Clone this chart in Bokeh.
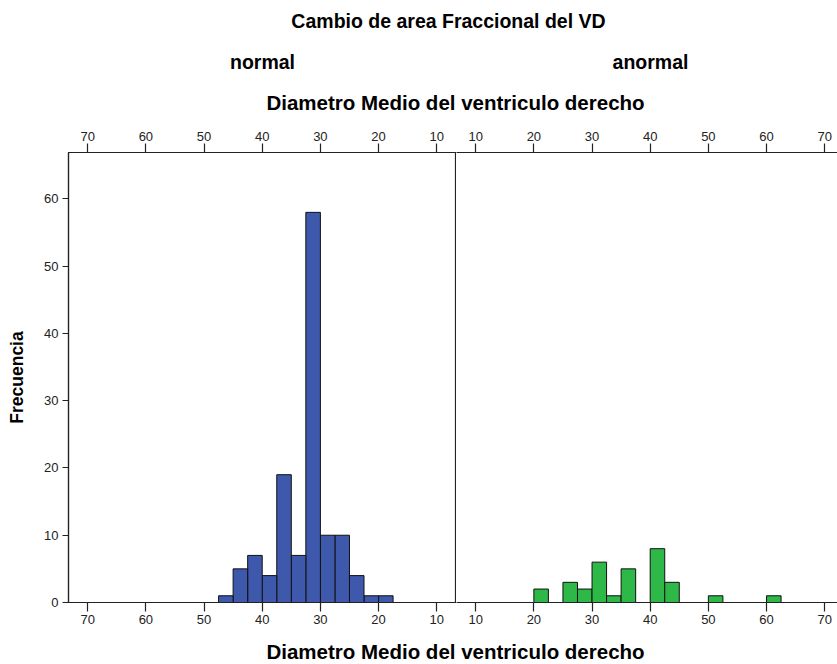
from bokeh.plotting import figure
from bokeh.models import Range1d, LinearAxis, FixedTicker, Label
from bokeh.layouts import column, row
from bokeh.embed import file_html
from bokeh.resources import INLINE

# ---- data ----
bin_width = 2.5
normal_bin_lo = [17.5, 20.0, 22.5, 25.0, 27.5, 30.0, 32.5, 35.0, 37.5, 40.0, 42.5, 45.0]
normal_counts = [1, 1, 4, 10, 10, 58, 7, 19, 4, 7, 5, 1]
anormal_bin_lo = [20.0, 25.0, 27.5, 30.0, 32.5, 35.0, 40.0, 42.5, 50.0, 60.0]
anormal_counts = [2, 3, 2, 6, 1, 5, 8, 3, 1, 1]
x_ticks = [10, 20, 30, 40, 50, 60, 70]
y_ticks = [0, 10, 20, 30, 40, 50, 60]

title_text = "Cambio de area Fraccional del VD"
panel_titles = ["normal", "anormal"]
x_label = "Diametro Medio del ventriculo derecho"
y_label = "Frecuencia"

FONT = "Liberation Sans"
W = 837
HEAD_H = 115
PANEL_H = 521
FOOT_H = 28
TICK_SIZE = "13px"
BLUE = "#3e58ac"
GREEN = "#2eb848"


def text_strip(height, labels):
    f = figure(width=W, height=height, x_range=Range1d(0, W), y_range=Range1d(height, 0),
               toolbar_location=None, output_backend="svg",
               x_axis_location=None, y_axis_location=None, min_border=0)
    f.outline_line_color = None
    f.xgrid.visible = False
    f.ygrid.visible = False
    for (txt, x, y, size) in labels:
        f.add_layout(Label(x=x, y=y, text=txt, text_font=FONT, text_font_size=size,
                           text_font_style="bold", text_align="center", text_baseline="middle",
                           text_color="#000000"))
    return f


def style_xaxis(ax):
    ax.ticker = FixedTicker(ticks=x_ticks)
    ax.major_tick_out = 9
    ax.major_tick_in = 0
    ax.minor_tick_out = 0
    ax.minor_tick_in = 0
    ax.major_label_standoff = 3
    ax.major_label_text_font = FONT
    ax.major_label_text_font_size = TICK_SIZE
    ax.major_label_text_color = "#222222"
    ax.axis_line_color = "#222222"
    ax.major_tick_line_color = "#222222"
    ax.axis_line_width = 1.2
    ax.major_tick_line_width = 1.2


def panel(width, xr, bin_lo, counts, color, left_border, show_y):
    p = figure(width=width, height=PANEL_H, x_range=xr, y_range=Range1d(0, 66.9),
               toolbar_location=None, output_backend="svg",
               y_axis_location="left" if show_y else None,
               min_border_left=left_border, min_border_right=0,
               min_border_top=37, min_border_bottom=34)
    p.xgrid.visible = False
    p.ygrid.visible = False
    p.background_fill_color = "white"
    p.border_fill_color = "white"
    right = [b + bin_width for b in bin_lo]
    p.quad(left=bin_lo, right=right, bottom=0, top=counts,
           fill_color=color, line_color="#111111", line_width=1)
    style_xaxis(p.xaxis[0])
    top = LinearAxis()
    style_xaxis(top)
    p.add_layout(top, "above")
    if show_y:
        ya = p.yaxis[0]
        ya.ticker = FixedTicker(ticks=y_ticks)
        ya.major_tick_out = 6
        ya.major_tick_in = 0
        ya.minor_tick_out = 0
        ya.minor_tick_in = 0
        ya.major_label_standoff = 4
        ya.major_label_text_font = FONT
        ya.major_label_text_font_size = TICK_SIZE
        ya.major_label_text_color = "#222222"
        ya.axis_line_color = "#222222"
        ya.major_tick_line_color = "#222222"
        ya.axis_line_width = 1.2
        ya.axis_label = y_label
        ya.axis_label_text_font = FONT
        ya.axis_label_text_font_size = "17.5px"
        ya.axis_label_text_font_style = "bold"
        ya.axis_label_text_color = "#000000"
        ya.axis_label_standoff = 14
        p.outline_line_color = "#222222"
        p.outline_line_width = 1.2
    else:
        p.outline_line_color = None
    return p


left = panel(456, Range1d(73.3, 6.6), normal_bin_lo, normal_counts, BLUE, 68, True)
right_p = panel(381, Range1d(6.7, 72.2), anormal_bin_lo, anormal_counts, GREEN, 0, False)

header = text_strip(HEAD_H, [(title_text, 448, 20, "19.5px"),
                             (panel_titles[0], 262, 61, "19.5px"),
                             (panel_titles[1], 650, 61, "19.5px"),
                             (x_label, 455, 102, "20.5px")])
footer = text_strip(FOOT_H, [(x_label, 455, 15, "20.5px")])

layout = column(header, row(left, right_p, spacing=0), footer, spacing=0)

open("out.html", "w").write(file_html(layout, INLINE))
